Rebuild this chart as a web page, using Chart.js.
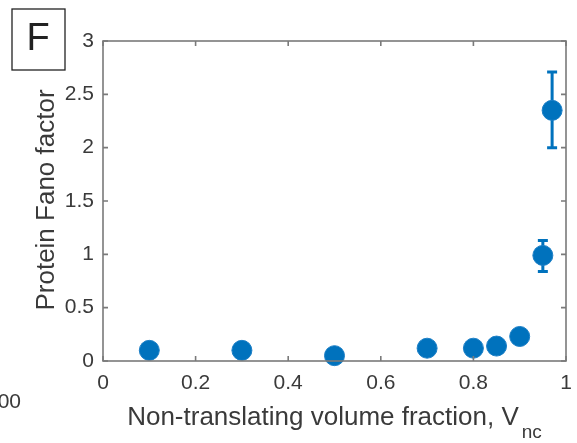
<!DOCTYPE html>
<html>
<head>
<meta charset="utf-8">
<script src="https://cdn.jsdelivr.net/npm/chart.js@4"></script>
<style>
  html, body { margin: 0; padding: 0; background: #fff; }
  #wrap { position: relative; width: 577px; height: 443px; }
</style>
</head>
<body>
<div id="wrap"><canvas id="fano" width="577" height="443"></canvas></div>
<script>
// non-translating volume fraction vs protein Fano factor
const volFraction = [0.1, 0.3, 0.5, 0.7, 0.8, 0.85, 0.9, 0.95, 0.97];
const fanoFactor  = [0.10, 0.10, 0.05, 0.12, 0.12, 0.14, 0.23, 0.99, 2.35];
const errLow      = [null, null, null, null, null, null, null, 0.84, 2.00];
const errHigh     = [null, null, null, null, null, null, null, 1.13, 2.71];
const xTicks = [0, 0.2, 0.4, 0.6, 0.8, 1];
const yTicks = [0, 0.5, 1, 1.5, 2, 2.5, 3];

const BLUE = '#0072BD';
const AXIS = '#7a7a7a';
const TEXT = '#3a3a3a';
const FONT = '"Liberation Sans", Arial, sans-serif';

// box around the axes with inward tick marks, axis titles, panel label
const frame = {
  id: 'frame',
  beforeDatasetsDraw(chart) {
    const { ctx, scales } = chart;
    ctx.save();
    // error bars, behind the markers
    ctx.strokeStyle = BLUE;
    ctx.lineWidth = 3;
    volFraction.forEach((v, i) => {
      if (errLow[i] == null) return;
      const x = scales.x.getPixelForValue(v);
      const y1 = scales.y.getPixelForValue(errLow[i]);
      const y2 = scales.y.getPixelForValue(errHigh[i]);
      ctx.beginPath();
      ctx.moveTo(x, y1); ctx.lineTo(x, y2);
      ctx.moveTo(x - 5, y1); ctx.lineTo(x + 5, y1);
      ctx.moveTo(x - 5, y2); ctx.lineTo(x + 5, y2);
      ctx.stroke();
    });
    ctx.restore();
  },
  afterDraw(chart) {
    const { ctx, chartArea: a, scales } = chart;
    ctx.save();
    ctx.strokeStyle = AXIS;
    ctx.lineWidth = 1.6;
    ctx.strokeRect(a.left, a.top, a.right - a.left, a.bottom - a.top);
    ctx.beginPath();
    xTicks.forEach(t => {
      const x = scales.x.getPixelForValue(t);
      ctx.moveTo(x, a.bottom); ctx.lineTo(x, a.bottom - 5);
      ctx.moveTo(x, a.top); ctx.lineTo(x, a.top + 5);
    });
    yTicks.forEach(t => {
      const y = scales.y.getPixelForValue(t);
      ctx.moveTo(a.left, y); ctx.lineTo(a.left + 5, y);
      ctx.moveTo(a.right, y); ctx.lineTo(a.right - 5, y);
    });
    ctx.stroke();

    // x title with subscript
    ctx.fillStyle = TEXT;
    ctx.textBaseline = 'alphabetic';
    ctx.textAlign = 'left';
    const main = 'Non-translating volume fraction, V';
    ctx.font = '26px ' + FONT;
    const w1 = ctx.measureText(main).width;
    ctx.font = '19px ' + FONT;
    const w2 = ctx.measureText('nc').width;
    const x0 = (a.left + a.right) / 2 - (w1 + 3 + w2) / 2;
    ctx.font = '26px ' + FONT;
    ctx.fillText(main, x0, 425);
    ctx.font = '19px ' + FONT;
    ctx.fillText('nc', x0 + w1 + 3, 438);

    // y title
    ctx.save();
    ctx.translate(47, (a.top + a.bottom) / 2 - 1);
    ctx.rotate(-Math.PI / 2);
    ctx.textAlign = 'center';
    ctx.textBaseline = 'middle';
    ctx.font = '26px ' + FONT;
    ctx.fillText('Protein Fano factor', 0, 0);
    ctx.restore();

    // panel letter
    ctx.strokeStyle = '#222';
    ctx.lineWidth = 1.3;
    ctx.strokeRect(12, 9, 53, 61);
    ctx.fillStyle = '#222';
    ctx.font = '38px ' + FONT;
    ctx.textAlign = 'center';
    ctx.textBaseline = 'middle';
    ctx.fillText('F', 38, 40);

    // edge of the neighbouring panel's axis label
    ctx.fillStyle = TEXT;
    ctx.font = '21px ' + FONT;
    ctx.textAlign = 'right';
    ctx.fillText('100', 21, 402);
    ctx.restore();
  }
};

new Chart(document.getElementById('fano'), {
  type: 'scatter',
  data: {
    datasets: [{
      data: volFraction.map((v, i) => ({ x: v, y: fanoFactor[i] })),
      backgroundColor: BLUE,
      borderColor: '#1c7fc6',
      borderWidth: 1,
      pointRadius: 10,
      pointHoverRadius: 10,
      clip: false
    }]
  },
  options: {
    responsive: false,
    animation: false,
    layout: { padding: { top: 41, right: 1, left: 0, bottom: 0 } },
    plugins: { legend: { display: false }, tooltip: { enabled: false } },
    scales: {
      x: {
        type: 'linear', min: 0, max: 1,
        afterFit: s => { s.height = 82; s.paddingRight = 8; },
        afterBuildTicks: s => { s.ticks = xTicks.map(v => ({ value: v })); },
        grid: { display: false, drawTicks: false },
        border: { display: false },
        ticks: { color: TEXT, font: { family: FONT, size: 21 }, padding: 10, maxRotation: 0,
                 callback: v => String(v) }
      },
      y: {
        type: 'linear', min: 0, max: 3,
        afterFit: s => { s.width = 103; },
        afterBuildTicks: s => { s.ticks = yTicks.map(v => ({ value: v })); },
        grid: { display: false, drawTicks: false },
        border: { display: false },
        ticks: { color: TEXT, font: { family: FONT, size: 21 }, padding: 9,
                 callback: v => String(v) }
      }
    }
  },
  plugins: [frame]
});
</script>
</body>
</html>
